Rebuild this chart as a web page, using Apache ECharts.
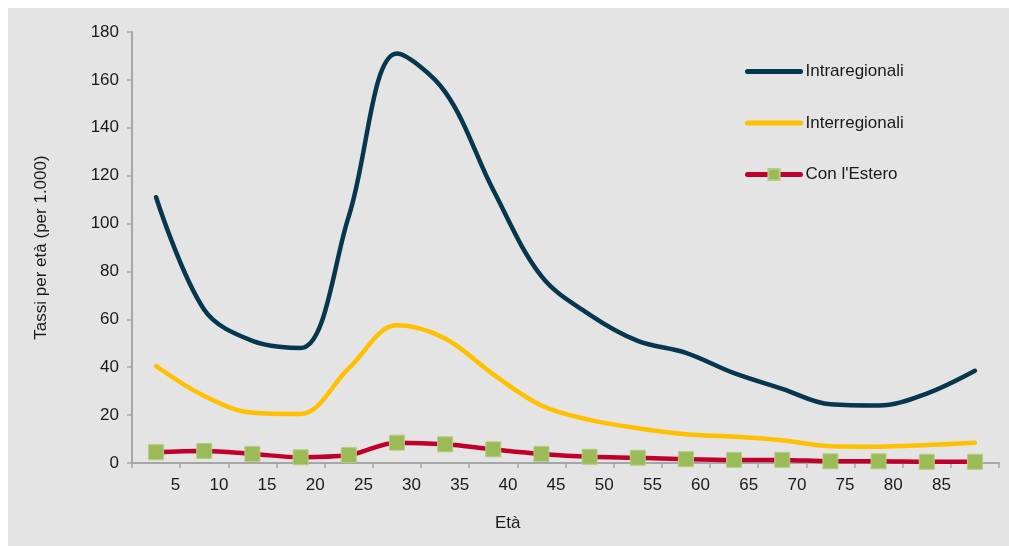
<!DOCTYPE html>
<html>
<head>
<meta charset="utf-8">
<script src="https://cdn.jsdelivr.net/npm/echarts@6/dist/echarts.min.js"></script>
<style>
  html, body { margin: 0; padding: 0; background: #ffffff; }
  #wrap { position: absolute; left: 8px; top: 8px; width: 1001px; height: 538px; background: #e3e4e3; }
  #chart { position: absolute; left: -8px; top: -8px; width: 1009px; height: 546px; }
</style>
</head>
<body>
<div id="wrap"><div id="chart"></div></div>
<script>
// Age-group midpoints (x positions of the points)
const ages = [2.5, 7.5, 12.5, 17.5, 22.5, 27.5, 32.5, 37.5, 42.5, 47.5, 52.5, 57.5, 62.5, 67.5, 72.5, 77.5, 82.5, 87.5];
// Tick labels shown on the x axis
const xTickLabels = [5, 10, 15, 20, 25, 30, 35, 40, 45, 50, 55, 60, 65, 70, 75, 80, 85];
// Series values (per 1.000)
const intraregionali = [111, 64, 51, 48, 103, 171, 155, 114, 78, 62, 51, 46, 37.5, 31, 24.5, 24, 29, 38.5];
const interregionali = [40.5, 28, 21, 20.5, 39.5, 57.5, 52, 37, 24, 18, 14.5, 12, 11, 9.5, 7, 6.8, 7.5, 8.5];
const conEstero = [4.5, 5.0, 3.8, 2.4, 3.3, 8.5, 7.8, 5.7, 3.8, 2.6, 2.2, 1.6, 1.3, 1.3, 0.7, 0.7, 0.5, 0.5];
const seriesNames = ['Intraregionali', 'Interregionali', "Con l'Estero"];

const pairs = vals => ages.map((a, i) => [a, vals[i]]);
const font = 'Liberation Sans, Arial, sans-serif';
const chart = echarts.init(document.getElementById('chart'), null, { renderer: 'canvas' });

chart.setOption({
  backgroundColor: 'transparent',
  animation: false,
  textStyle: { fontFamily: font },
  grid: { left: 132, right: 10, top: 32, bottom: 83, containLabel: false },
  legend: {
    orient: 'vertical',
    left: 740,
    top: 58,
    itemWidth: 53,
    itemHeight: 14,
    itemGap: 34.5,
    textStyle: { fontSize: 17, color: '#1a1a1a', fontFamily: font },
    data: [
      { name: seriesNames[0], itemStyle: { opacity: 0 }, lineStyle: { width: 5, cap: 'round' } },
      { name: seriesNames[1], itemStyle: { opacity: 0 }, lineStyle: { width: 5, cap: 'round' } },
      { name: seriesNames[2], lineStyle: { width: 5, cap: 'round' } }
    ]
  },
  xAxis: {
    type: 'value',
    min: 0,
    max: 90,
    interval: 5,
    axisLine: { show: true, lineStyle: { color: '#a6a6a6', width: 2 } },
    axisTick: { show: true, length: 5, lineStyle: { color: '#a6a6a6', width: 1.5 } },
    splitLine: { show: false },
    axisLabel: {
      fontSize: 17, color: '#1a1a1a', margin: 14, align: 'right',
      formatter: v => (xTickLabels.indexOf(v) >= 0 ? String(v) : '')
    }
  },
  yAxis: {
    type: 'value',
    min: 0,
    max: 180,
    interval: 20,
    name: 'Tassi per età (per 1.000)',
    nameLocation: 'middle',
    nameGap: 82,
    nameTextStyle: { fontSize: 17, color: '#1a1a1a', fontFamily: font },
    axisLine: { show: true, lineStyle: { color: '#a6a6a6', width: 2 } },
    axisTick: { show: true, length: 5, lineStyle: { color: '#a6a6a6', width: 1.5 } },
    splitLine: { show: false },
    axisLabel: { fontSize: 17, color: '#1a1a1a', margin: 13 }
  },
  graphic: [{
    type: 'text',
    left: 495,
    top: 515,
    style: { text: 'Età', fontSize: 17, fill: '#1a1a1a', fontFamily: font }
  }],
  series: [
    {
      name: seriesNames[0], type: 'line', data: pairs(intraregionali),
      smooth: 0.35, symbol: 'circle', showSymbol: false,
      lineStyle: { color: '#06374f', width: 4.5, cap: 'round' },
      itemStyle: { color: '#06374f' }
    },
    {
      name: seriesNames[1], type: 'line', data: pairs(interregionali),
      smooth: 0.35, symbol: 'circle', showSymbol: false,
      lineStyle: { color: '#ffc000', width: 4.5, cap: 'round' },
      itemStyle: { color: '#ffc000' }
    },
    {
      name: seriesNames[2], type: 'line', data: pairs(conEstero),
      smooth: 0.35, symbol: 'rect', symbolSize: 15, showSymbol: true,
      lineStyle: { color: '#c0002b', width: 4.5, cap: 'round' },
      itemStyle: { color: '#9bbb59', borderColor: '#b4cc82', borderWidth: 1 }
    }
  ]
});
</script>
</body>
</html>
